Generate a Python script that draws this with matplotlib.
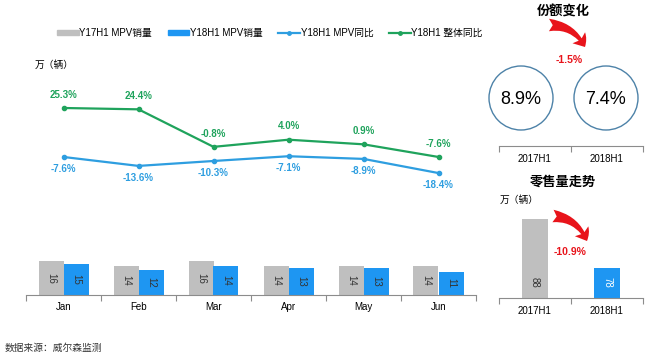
import numpy as np
import matplotlib.pyplot as plt
from matplotlib.patches import Circle, FancyArrowPatch

plt.rcParams['font.family'] = ['Liberation Sans', 'Noto Sans CJK SC', 'DejaVu Sans']

# --- data ---
months = ['Jan', 'Feb', 'Mar', 'Apr', 'May', 'Jun']
sales_17 = [16, 14, 16, 14, 14, 14]
sales_18 = [15, 12, 14, 13, 13, 11]
mpv_yoy = [-7.6, -13.6, -10.3, -7.1, -8.9, -18.4]
total_yoy = [25.3, 24.4, -0.8, 4.0, 0.9, -7.6]

periods = ['2017H1', '2018H1']
share = [8.9, 7.4]
share_change = -1.5
h1_sales = [88, 78]
h1_change = -10.9

GRAY = '#BFBFBF'
BLUE = '#1E96F2'
LBLUE = '#2E9EE0'
GREEN = '#1FA35C'
RED = '#E8141B'
AXC = '#8C8C8C'

W, H = 650, 354
fig = plt.figure(figsize=(W / 100, H / 100), dpi=100)


def rect(x0, y0, x1, y1):
    return [x0 / W, 1 - y1 / H, (x1 - x0) / W, (y1 - y0) / H]


def cat_axis(ax, labels, pad):
    # category axis with ticks between groups, labels centred
    n = len(labels)
    for s in ['top', 'right', 'left']:
        ax.spines[s].set_visible(False)
    ax.spines['bottom'].set_color(AXC)
    ax.set_yticks([])
    ax.set_xticks(np.arange(-0.5, n), [''] * (n + 1))
    ax.tick_params(axis='x', which='major', direction='out', length=4, color=AXC)
    ax.set_xticks(np.arange(n), labels, minor=True)
    ax.tick_params(axis='x', which='minor', length=0, labelsize=7, pad=pad)
    ax.set_xlim(-0.5, n - 0.5)
    ax.patch.set_alpha(0)


# --- monthly bars ---
ax_b = fig.add_axes(rect(26, 195, 476, 295))
x = np.arange(len(months))
w = 1 / 3
ax_b.bar(x - w / 2, sales_17, w, color=GRAY)
ax_b.bar(x + w / 2, sales_18, w, color=BLUE)
for i in range(len(months)):
    ax_b.text(x[i] - w / 2, sales_17[i] / 2, str(sales_17[i]), rotation=-90,
              ha='center', va='center', fontsize=7, color='#333333')
    ax_b.text(x[i] + w / 2, sales_18[i] / 2, str(sales_18[i]), rotation=-90,
              ha='center', va='center', fontsize=7, color='#333333')
ax_b.set_ylim(0, 100 / 2.1)
cat_axis(ax_b, months, 5)

# --- yoy lines ---
ax_l = fig.add_axes(rect(26, 80, 476, 200))
ax_l.patch.set_alpha(0)
ax_l.plot(x, mpv_yoy, color=LBLUE, lw=1.6, marker='o', ms=3)
ax_l.plot(x, total_yoy, color=GREEN, lw=1.6, marker='o', ms=3)
for i in range(len(months)):
    ax_l.annotate(f'{total_yoy[i]:.1f}%', (x[i], total_yoy[i]), xytext=(0, 6),
                  textcoords='offset points', ha='center', va='bottom',
                  fontsize=7, fontweight='bold', color=GREEN)
    ax_l.annotate(f'{mpv_yoy[i]:.1f}%', (x[i], mpv_yoy[i]), xytext=(0, -5),
                  textcoords='offset points', ha='center', va='top',
                  fontsize=7, fontweight='bold', color=LBLUE)
ax_l.set_xlim(-0.5, len(months) - 0.5)
ax_l.set_ylim(-36.5, 44.1)
ax_l.axis('off')

# --- legend ---
h = [
    plt.Rectangle((0, 0), 1, 1, color=GRAY),
    plt.Rectangle((0, 0), 1, 1, color=BLUE),
    plt.Line2D([], [], color=LBLUE, lw=1.6, marker='o', ms=2.5),
    plt.Line2D([], [], color=GREEN, lw=1.6, marker='o', ms=2.5),
]
labels = ['Y17H1 MPV销量', 'Y18H1 MPV销量', 'Y18H1 MPV同比', 'Y18H1 整体同比']
fig.legend(h, labels, loc='center', bbox_to_anchor=(270 / W, 1 - 33 / H), ncol=4,
           frameon=False, fontsize=7, handlelength=2.2, handleheight=0.5,
           handletextpad=0.1, columnspacing=1.6)

# --- overlay in pixel coords for decorations ---
ov = fig.add_axes([0, 0, 1, 1])
ov.set_xlim(0, W)
ov.set_ylim(H, 0)
ov.axis('off')
ov.patch.set_alpha(0)

ov.text(35, 65, '万（辆）', fontsize=7, va='center')
ov.text(5, 348, '数据来源：威尔森监测', fontsize=7, va='center', color='#333333')

arrow_style = 'fancy,head_length=8,head_width=12,tail_width=9'

ov.text(563, 12, '份额变化', fontsize=9.5, fontweight='bold', ha='center', va='center')
ov.add_patch(FancyArrowPatch((549, 25), (585, 47), connectionstyle='arc3,rad=-0.3',
                             arrowstyle=arrow_style, color=RED, lw=0,
                             shrinkA=0, shrinkB=0))
ov.text(569, 60, f'{share_change:.1f}%', fontsize=7.5, fontweight='bold', color=RED,
        ha='center', va='center')

ax_c = fig.add_axes(rect(499, 60, 643, 146))
ax_c.set_ylim(0, 86)
cat_axis(ax_c, periods, 6)
for i, v in enumerate(share):
    cx = 499 + (i + 0.5) * 72 - 14 + i * 13
    ov.add_patch(Circle((cx, 98), 32, fill=False, ec='#4D82A8', lw=1))
    ov.text(cx, 99, f'{v:.1f}%', fontsize=13, ha='center', va='center')

ov.text(563, 182, '零售量走势', fontsize=9.5, fontweight='bold', ha='center', va='center')
ov.text(500, 200, '万（辆）', fontsize=7, va='center')

ax_r = fig.add_axes(rect(499, 200, 643, 298))
ax_r.bar([0, 1], h1_sales, 0.37, color=[GRAY, BLUE])
base = 72
ax_r.set_ylim(base, base + 98 / 4.94)
for i, v in enumerate(h1_sales):
    ax_r.text(i, base + 3.2, str(v), rotation=-90, ha='center', va='center', fontsize=7,
              color='#333333' if i == 0 else 'white')
cat_axis(ax_r, periods, 6)

ov.add_patch(FancyArrowPatch((553, 216), (587, 241), connectionstyle='arc3,rad=-0.3',
                             arrowstyle=arrow_style, color=RED, lw=0,
                             shrinkA=0, shrinkB=0))
ov.text(570, 252, f'{h1_change:.1f}%', fontsize=7.5, fontweight='bold', color=RED,
        ha='center', va='center')

fig.savefig('out.png', dpi=100)
